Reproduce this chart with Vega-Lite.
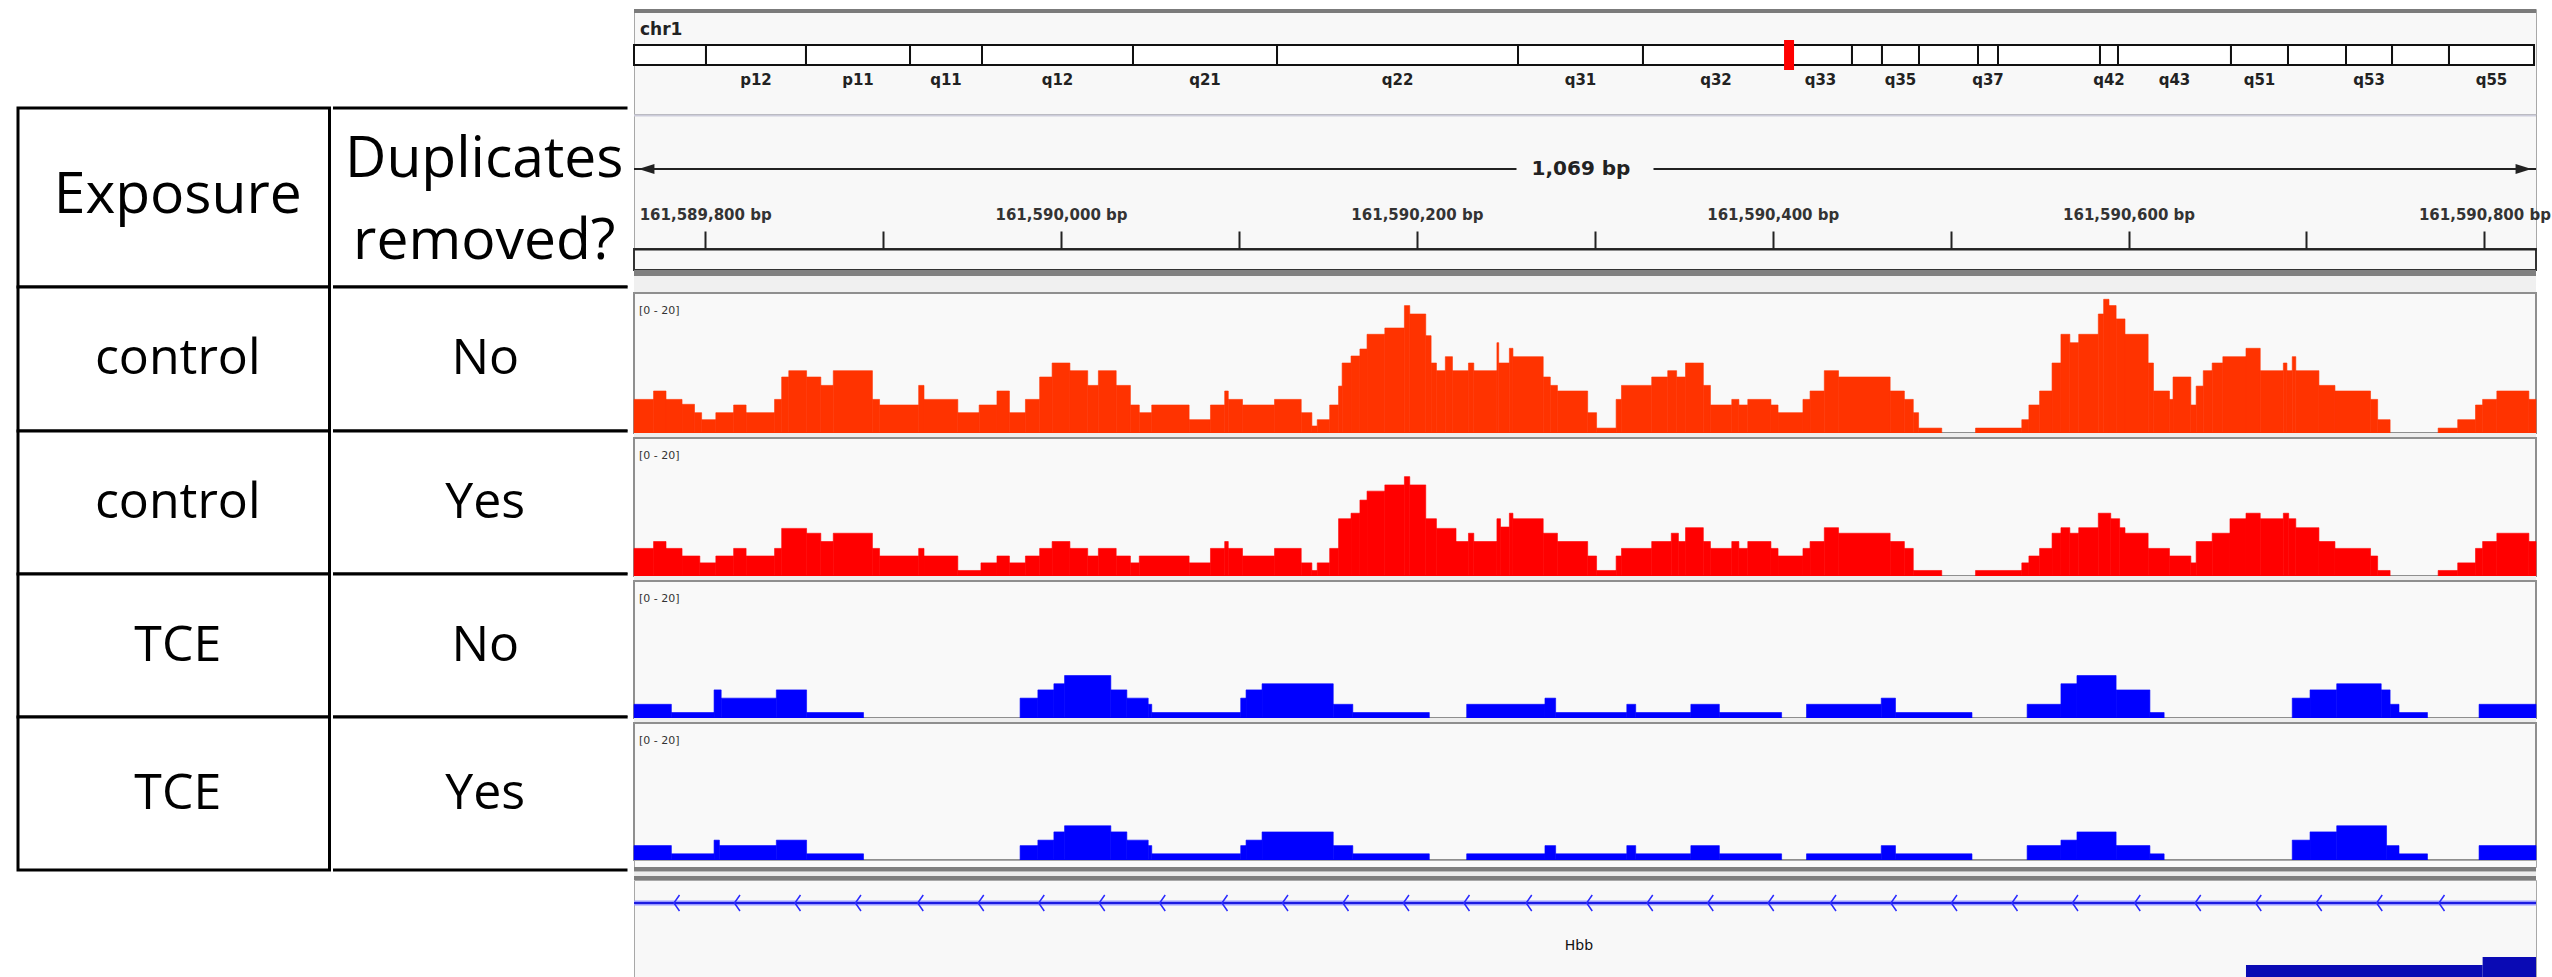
{
  "$schema": "https://vega.github.io/schema/vega-lite/v6.json",
  "background": "white",
  "padding": {"left": 16, "top": 8, "right": 0, "bottom": 0},
  "config": {"view": {"stroke": null}, "font": "DejaVu Sans"},
  "datasets": {
    "samples": [
      {"track": 1, "exposure": "control", "dedup": "No"},
      {"track": 2, "exposure": "control", "dedup": "Yes"},
      {"track": 3, "exposure": "TCE", "dedup": "No"},
      {"track": 4, "exposure": "TCE", "dedup": "Yes"}
    ],
    "region": [{"chrom": "chr1", "start": 161589760, "end": 161590829}],
    "bands": [
      {"band": "p13", "start": 0, "end": 10.15, "show": false},
      {"band": "p12", "start": 10.15, "end": 24.25, "show": true},
      {"band": "p11", "start": 24.25, "end": 38.92, "show": true},
      {"band": "q11", "start": 38.92, "end": 49.07, "show": true},
      {"band": "q12", "start": 49.07, "end": 70.36, "show": true},
      {"band": "q21", "start": 70.36, "end": 90.67, "show": true},
      {"band": "q22", "start": 90.67, "end": 124.65, "show": true},
      {"band": "q31", "start": 124.65, "end": 142.27, "show": true},
      {"band": "q32", "start": 142.27, "end": 162.86, "show": true},
      {"band": "q33", "start": 162.86, "end": 171.74, "show": true},
      {"band": "q34", "start": 171.74, "end": 175.97, "show": false},
      {"band": "q35", "start": 175.97, "end": 181.19, "show": true},
      {"band": "q36", "start": 181.19, "end": 189.51, "show": false},
      {"band": "q37", "start": 189.51, "end": 192.33, "show": true},
      {"band": "q41", "start": 192.33, "end": 206.71, "show": false},
      {"band": "q42", "start": 206.71, "end": 209.25, "show": true},
      {"band": "q43", "start": 209.25, "end": 225.18, "show": true},
      {"band": "q51", "start": 225.18, "end": 233.22, "show": true},
      {"band": "q52", "start": 233.22, "end": 241.4, "show": false},
      {"band": "q53", "start": 241.4, "end": 247.89, "show": true},
      {"band": "q54", "start": 247.89, "end": 255.92, "show": false},
      {"band": "q55", "start": 255.92, "end": 267.91, "show": true}
    ],
    "control_nodedup": [
      {"start":161589760,"end":161589771,"cov":4.8},{"start":161589771,"end":161589778,"cov":6.0},{"start":161589778,"end":161589787,"cov":4.8},
      {"start":161589787,"end":161589794,"cov":4.1},{"start":161589794,"end":161589798,"cov":2.9},{"start":161589798,"end":161589806,"cov":1.9},
      {"start":161589806,"end":161589816,"cov":2.9},{"start":161589816,"end":161589823,"cov":4.0},{"start":161589823,"end":161589839,"cov":2.9},
      {"start":161589839,"end":161589843,"cov":4.8},{"start":161589843,"end":161589847,"cov":8.0},{"start":161589847,"end":161589857,"cov":8.9},
      {"start":161589857,"end":161589865,"cov":8.0},{"start":161589865,"end":161589872,"cov":6.8},{"start":161589872,"end":161589894,"cov":8.9},
      {"start":161589894,"end":161589898,"cov":4.8},{"start":161589898,"end":161589920,"cov":4.0},{"start":161589920,"end":161589923,"cov":6.8},
      {"start":161589923,"end":161589942,"cov":4.8},{"start":161589942,"end":161589954,"cov":2.9},{"start":161589954,"end":161589964,"cov":4.0},
      {"start":161589964,"end":161589971,"cov":6.0},{"start":161589971,"end":161589980,"cov":2.9},{"start":161589980,"end":161589988,"cov":4.8},
      {"start":161589988,"end":161589995,"cov":8.0},{"start":161589995,"end":161590005,"cov":10.0},{"start":161590005,"end":161590015,"cov":8.9},
      {"start":161590015,"end":161590021,"cov":6.8},{"start":161590021,"end":161590031,"cov":8.9},{"start":161590031,"end":161590039,"cov":6.8},
      {"start":161590039,"end":161590044,"cov":4.0},{"start":161590044,"end":161590051,"cov":2.9},{"start":161590051,"end":161590072,"cov":4.0},
      {"start":161590072,"end":161590084,"cov":1.9},{"start":161590084,"end":161590092,"cov":4.0},{"start":161590092,"end":161590094,"cov":6.0},
      {"start":161590094,"end":161590102,"cov":4.8},{"start":161590102,"end":161590120,"cov":4.0},{"start":161590120,"end":161590135,"cov":4.8},
      {"start":161590135,"end":161590141,"cov":2.9},{"start":161590141,"end":161590144,"cov":1.0},{"start":161590144,"end":161590151,"cov":1.9},
      {"start":161590151,"end":161590156,"cov":4.0},{"start":161590156,"end":161590158,"cov":6.7},{"start":161590158,"end":161590163,"cov":10.0},
      {"start":161590163,"end":161590168,"cov":11.0},{"start":161590168,"end":161590172,"cov":12.0},{"start":161590172,"end":161590182,"cov":14.1},
      {"start":161590182,"end":161590193,"cov":15.0},{"start":161590193,"end":161590196,"cov":18.2},{"start":161590196,"end":161590205,"cov":17.0},
      {"start":161590205,"end":161590208,"cov":13.9},{"start":161590208,"end":161590211,"cov":10.0},{"start":161590211,"end":161590216,"cov":8.9},
      {"start":161590216,"end":161590220,"cov":10.9},{"start":161590220,"end":161590229,"cov":8.9},{"start":161590229,"end":161590232,"cov":10.0},
      {"start":161590232,"end":161590245,"cov":8.9},{"start":161590245,"end":161590246,"cov":12.9},{"start":161590246,"end":161590252,"cov":10.0},
      {"start":161590252,"end":161590254,"cov":12.1},{"start":161590254,"end":161590271,"cov":10.9},{"start":161590271,"end":161590275,"cov":8.0},
      {"start":161590275,"end":161590279,"cov":6.8},{"start":161590279,"end":161590296,"cov":6.0},{"start":161590296,"end":161590301,"cov":2.9},
      {"start":161590301,"end":161590312,"cov":0.7},{"start":161590312,"end":161590315,"cov":4.8},{"start":161590315,"end":161590332,"cov":6.8},
      {"start":161590332,"end":161590341,"cov":8.0},{"start":161590341,"end":161590346,"cov":8.9},{"start":161590346,"end":161590351,"cov":8.0},
      {"start":161590351,"end":161590361,"cov":10.0},{"start":161590361,"end":161590365,"cov":6.8},{"start":161590365,"end":161590377,"cov":4.0},
      {"start":161590377,"end":161590381,"cov":4.8},{"start":161590381,"end":161590386,"cov":4.0},{"start":161590386,"end":161590399,"cov":4.8},
      {"start":161590399,"end":161590403,"cov":4.0},{"start":161590403,"end":161590417,"cov":2.9},{"start":161590417,"end":161590421,"cov":4.8},
      {"start":161590421,"end":161590429,"cov":6.0},{"start":161590429,"end":161590437,"cov":8.9},{"start":161590437,"end":161590466,"cov":8.0},
      {"start":161590466,"end":161590474,"cov":6.0},{"start":161590474,"end":161590479,"cov":4.8},{"start":161590479,"end":161590482,"cov":2.9},
      {"start":161590482,"end":161590495,"cov":0.7},
      {"start":161590514,"end":161590540,"cov":0.7},{"start":161590540,"end":161590544,"cov":1.9},{"start":161590544,"end":161590550,"cov":4.0},
      {"start":161590550,"end":161590557,"cov":6.0},{"start":161590557,"end":161590562,"cov":10.0},{"start":161590562,"end":161590567,"cov":14.1},
      {"start":161590567,"end":161590572,"cov":12.9},{"start":161590572,"end":161590583,"cov":14.1},{"start":161590583,"end":161590586,"cov":17.0},
      {"start":161590586,"end":161590589,"cov":19.1},{"start":161590589,"end":161590593,"cov":18.2},{"start":161590593,"end":161590598,"cov":16.3},
      {"start":161590598,"end":161590611,"cov":14.1},{"start":161590611,"end":161590614,"cov":10.0},{"start":161590614,"end":161590623,"cov":6.0},
      {"start":161590623,"end":161590625,"cov":4.8},{"start":161590625,"end":161590635,"cov":8.0},{"start":161590635,"end":161590638,"cov":4.0},
      {"start":161590638,"end":161590642,"cov":6.7},{"start":161590642,"end":161590647,"cov":8.9},{"start":161590647,"end":161590653,"cov":10.0},
      {"start":161590653,"end":161590666,"cov":10.9},{"start":161590666,"end":161590674,"cov":12.1},{"start":161590674,"end":161590687,"cov":8.9},
      {"start":161590687,"end":161590689,"cov":10.0},{"start":161590689,"end":161590692,"cov":8.9},{"start":161590692,"end":161590694,"cov":10.9},
      {"start":161590694,"end":161590707,"cov":8.9},{"start":161590707,"end":161590716,"cov":6.8},{"start":161590716,"end":161590736,"cov":6.0},
      {"start":161590736,"end":161590740,"cov":4.8},{"start":161590740,"end":161590747,"cov":1.9},
      {"start":161590774,"end":161590785,"cov":0.7},{"start":161590785,"end":161590795,"cov":1.9},{"start":161590795,"end":161590799,"cov":4.0},
      {"start":161590799,"end":161590807,"cov":4.8},{"start":161590807,"end":161590825,"cov":6.0},{"start":161590825,"end":161590829,"cov":4.8}
    ],
    "control_dedup": [
      {"start":161589760,"end":161589771,"cov":4.0},{"start":161589771,"end":161589778,"cov":5.0},{"start":161589778,"end":161589787,"cov":4.0},
      {"start":161589787,"end":161589797,"cov":2.9},{"start":161589797,"end":161589806,"cov":1.9},{"start":161589806,"end":161589816,"cov":2.9},
      {"start":161589816,"end":161589823,"cov":4.0},{"start":161589823,"end":161589839,"cov":2.9},{"start":161589839,"end":161589843,"cov":4.0},
      {"start":161589843,"end":161589857,"cov":6.9},{"start":161589857,"end":161589865,"cov":6.2},{"start":161589865,"end":161589872,"cov":5.0},
      {"start":161589872,"end":161589894,"cov":6.2},{"start":161589894,"end":161589898,"cov":4.0},{"start":161589898,"end":161589920,"cov":2.9},
      {"start":161589920,"end":161589923,"cov":4.0},{"start":161589923,"end":161589942,"cov":2.9},{"start":161589942,"end":161589955,"cov":0.8},
      {"start":161589955,"end":161589964,"cov":1.9},{"start":161589964,"end":161589971,"cov":2.9},{"start":161589971,"end":161589980,"cov":1.9},
      {"start":161589980,"end":161589988,"cov":2.9},{"start":161589988,"end":161589995,"cov":4.0},{"start":161589995,"end":161590005,"cov":5.0},
      {"start":161590005,"end":161590015,"cov":4.0},{"start":161590015,"end":161590021,"cov":2.9},{"start":161590021,"end":161590031,"cov":4.0},
      {"start":161590031,"end":161590039,"cov":2.9},{"start":161590039,"end":161590044,"cov":1.9},{"start":161590044,"end":161590072,"cov":2.9},
      {"start":161590072,"end":161590084,"cov":1.9},{"start":161590084,"end":161590092,"cov":4.0},{"start":161590092,"end":161590094,"cov":5.0},
      {"start":161590094,"end":161590102,"cov":4.0},{"start":161590102,"end":161590120,"cov":2.9},{"start":161590120,"end":161590135,"cov":4.0},
      {"start":161590135,"end":161590141,"cov":1.9},{"start":161590141,"end":161590144,"cov":0.8},{"start":161590144,"end":161590151,"cov":1.9},
      {"start":161590151,"end":161590156,"cov":4.0},{"start":161590156,"end":161590163,"cov":8.3},{"start":161590163,"end":161590168,"cov":9.1},
      {"start":161590168,"end":161590172,"cov":11.0},{"start":161590172,"end":161590182,"cov":12.3},{"start":161590182,"end":161590193,"cov":13.2},
      {"start":161590193,"end":161590196,"cov":14.4},{"start":161590196,"end":161590205,"cov":13.2},{"start":161590205,"end":161590211,"cov":8.3},
      {"start":161590211,"end":161590222,"cov":6.9},{"start":161590222,"end":161590229,"cov":5.0},{"start":161590229,"end":161590232,"cov":6.2},
      {"start":161590232,"end":161590245,"cov":5.0},{"start":161590245,"end":161590247,"cov":8.3},{"start":161590247,"end":161590252,"cov":7.1},
      {"start":161590252,"end":161590254,"cov":9.1},{"start":161590254,"end":161590271,"cov":8.3},{"start":161590271,"end":161590279,"cov":6.2},
      {"start":161590279,"end":161590296,"cov":5.0},{"start":161590296,"end":161590301,"cov":2.9},{"start":161590301,"end":161590312,"cov":0.8},
      {"start":161590312,"end":161590315,"cov":2.9},{"start":161590315,"end":161590332,"cov":4.0},{"start":161590332,"end":161590343,"cov":5.0},
      {"start":161590343,"end":161590347,"cov":6.2},{"start":161590347,"end":161590351,"cov":5.0},{"start":161590351,"end":161590361,"cov":7.0},
      {"start":161590361,"end":161590365,"cov":5.0},{"start":161590365,"end":161590377,"cov":4.0},{"start":161590377,"end":161590381,"cov":5.0},
      {"start":161590381,"end":161590386,"cov":4.0},{"start":161590386,"end":161590399,"cov":5.0},{"start":161590399,"end":161590403,"cov":4.0},
      {"start":161590403,"end":161590417,"cov":2.9},{"start":161590417,"end":161590421,"cov":4.0},{"start":161590421,"end":161590429,"cov":5.0},
      {"start":161590429,"end":161590437,"cov":7.0},{"start":161590437,"end":161590466,"cov":6.2},{"start":161590466,"end":161590474,"cov":5.0},
      {"start":161590474,"end":161590479,"cov":4.0},{"start":161590479,"end":161590495,"cov":0.8},
      {"start":161590514,"end":161590540,"cov":0.8},{"start":161590540,"end":161590544,"cov":1.9},{"start":161590544,"end":161590550,"cov":2.9},
      {"start":161590550,"end":161590557,"cov":4.0},{"start":161590557,"end":161590562,"cov":6.2},{"start":161590562,"end":161590567,"cov":7.0},
      {"start":161590567,"end":161590572,"cov":6.2},{"start":161590572,"end":161590583,"cov":7.0},{"start":161590583,"end":161590590,"cov":9.1},
      {"start":161590590,"end":161590595,"cov":8.3},{"start":161590595,"end":161590598,"cov":7.0},{"start":161590598,"end":161590611,"cov":6.2},
      {"start":161590611,"end":161590623,"cov":4.0},{"start":161590623,"end":161590635,"cov":2.9},{"start":161590635,"end":161590638,"cov":1.9},
      {"start":161590638,"end":161590647,"cov":5.0},{"start":161590647,"end":161590657,"cov":6.2},{"start":161590657,"end":161590666,"cov":8.3},
      {"start":161590666,"end":161590674,"cov":9.1},{"start":161590674,"end":161590687,"cov":8.3},{"start":161590687,"end":161590690,"cov":9.1},
      {"start":161590690,"end":161590694,"cov":8.3},{"start":161590694,"end":161590707,"cov":7.0},{"start":161590707,"end":161590716,"cov":5.0},
      {"start":161590716,"end":161590736,"cov":4.0},{"start":161590736,"end":161590740,"cov":2.9},{"start":161590740,"end":161590747,"cov":0.8},
      {"start":161590774,"end":161590785,"cov":0.8},{"start":161590785,"end":161590795,"cov":1.9},{"start":161590795,"end":161590799,"cov":4.0},
      {"start":161590799,"end":161590807,"cov":5.0},{"start":161590807,"end":161590825,"cov":6.2},{"start":161590825,"end":161590829,"cov":5.0}
    ],
    "tce_nodedup": [
      {"start":161589760,"end":161589781,"cov":2.0},{"start":161589781,"end":161589805,"cov":0.8},{"start":161589805,"end":161589809,"cov":4.1},
      {"start":161589809,"end":161589840,"cov":2.9},{"start":161589840,"end":161589857,"cov":4.1},{"start":161589857,"end":161589889,"cov":0.8},
      {"start":161589977,"end":161589987,"cov":2.9},{"start":161589987,"end":161589996,"cov":4.1},{"start":161589996,"end":161590002,"cov":5.0},
      {"start":161590002,"end":161590028,"cov":6.2},{"start":161590028,"end":161590037,"cov":4.1},{"start":161590037,"end":161590049,"cov":2.9},
      {"start":161590049,"end":161590051,"cov":2.0},{"start":161590051,"end":161590101,"cov":0.8},{"start":161590101,"end":161590104,"cov":2.9},
      {"start":161590104,"end":161590113,"cov":4.1},{"start":161590113,"end":161590153,"cov":5.0},{"start":161590153,"end":161590164,"cov":2.0},
      {"start":161590164,"end":161590207,"cov":0.8},
      {"start":161590228,"end":161590272,"cov":2.0},{"start":161590272,"end":161590278,"cov":2.9},{"start":161590278,"end":161590318,"cov":0.8},
      {"start":161590318,"end":161590323,"cov":2.0},{"start":161590323,"end":161590354,"cov":0.8},{"start":161590354,"end":161590370,"cov":2.0},
      {"start":161590370,"end":161590405,"cov":0.8},
      {"start":161590419,"end":161590461,"cov":2.0},{"start":161590461,"end":161590469,"cov":2.9},{"start":161590469,"end":161590512,"cov":0.8},
      {"start":161590543,"end":161590562,"cov":2.0},{"start":161590562,"end":161590571,"cov":5.0},{"start":161590571,"end":161590593,"cov":6.2},
      {"start":161590593,"end":161590612,"cov":4.1},{"start":161590612,"end":161590620,"cov":0.8},
      {"start":161590692,"end":161590702,"cov":2.9},{"start":161590702,"end":161590717,"cov":4.1},{"start":161590717,"end":161590742,"cov":5.0},
      {"start":161590742,"end":161590747,"cov":4.1},{"start":161590747,"end":161590752,"cov":2.0},{"start":161590752,"end":161590768,"cov":0.8},
      {"start":161590797,"end":161590829,"cov":2.0}
    ],
    "tce_dedup": [
      {"start":161589760,"end":161589781,"cov":2.1},{"start":161589781,"end":161589805,"cov":0.9},{"start":161589805,"end":161589808,"cov":2.9},
      {"start":161589808,"end":161589840,"cov":2.1},{"start":161589840,"end":161589857,"cov":2.9},{"start":161589857,"end":161589889,"cov":0.9},
      {"start":161589977,"end":161589987,"cov":2.1},{"start":161589987,"end":161589996,"cov":2.9},{"start":161589996,"end":161590002,"cov":4.1},
      {"start":161590002,"end":161590028,"cov":5.0},{"start":161590028,"end":161590037,"cov":4.1},{"start":161590037,"end":161590049,"cov":2.9},
      {"start":161590049,"end":161590051,"cov":2.1},{"start":161590051,"end":161590101,"cov":0.9},{"start":161590101,"end":161590104,"cov":2.1},
      {"start":161590104,"end":161590113,"cov":2.9},{"start":161590113,"end":161590153,"cov":4.1},{"start":161590153,"end":161590164,"cov":2.1},
      {"start":161590164,"end":161590207,"cov":0.9},
      {"start":161590228,"end":161590272,"cov":0.9},{"start":161590272,"end":161590278,"cov":2.1},{"start":161590278,"end":161590318,"cov":0.9},
      {"start":161590318,"end":161590323,"cov":2.1},{"start":161590323,"end":161590354,"cov":0.9},{"start":161590354,"end":161590370,"cov":2.1},
      {"start":161590370,"end":161590405,"cov":0.9},
      {"start":161590419,"end":161590461,"cov":0.9},{"start":161590461,"end":161590469,"cov":2.1},{"start":161590469,"end":161590512,"cov":0.9},
      {"start":161590543,"end":161590562,"cov":2.1},{"start":161590562,"end":161590571,"cov":2.9},{"start":161590571,"end":161590593,"cov":4.1},
      {"start":161590593,"end":161590612,"cov":2.1},{"start":161590612,"end":161590620,"cov":0.9},
      {"start":161590692,"end":161590702,"cov":2.9},{"start":161590702,"end":161590717,"cov":4.1},{"start":161590717,"end":161590745,"cov":5.0},
      {"start":161590745,"end":161590752,"cov":2.1},{"start":161590752,"end":161590768,"cov":0.9},
      {"start":161590797,"end":161590829,"cov":2.1}
    ],
    "chevrons": [
      {"pos":161589784},{"pos":161589818},{"pos":161589852},{"pos":161589886},{"pos":161589921},{"pos":161589955},
      {"pos":161589989},{"pos":161590023},{"pos":161590057},{"pos":161590092},{"pos":161590126},{"pos":161590160},
      {"pos":161590194},{"pos":161590228},{"pos":161590263},{"pos":161590297},{"pos":161590331},{"pos":161590365},
      {"pos":161590399},{"pos":161590434},{"pos":161590468},{"pos":161590502},{"pos":161590536},{"pos":161590570},
      {"pos":161590605},{"pos":161590639},{"pos":161590673},{"pos":161590707},{"pos":161590741},{"pos":161590776}
    ],
    "exons": [
      {"gene": "Hbb", "kind": "UTR", "start": 161590666, "end": 161590799},
      {"gene": "Hbb", "kind": "CDS", "start": 161590799, "end": 161590829}
    ]
  },
  "spacing": 0,
  "hconcat": [
    {
      "spacing": 0,
      "bounds": "flush",
      "vconcat": [
        {"width": 311.5, "height": 99, "data": {"values": []}, "mark": "point", "view": {"fill": "white", "stroke": null}},
        {"width": 311.5, "height": 179, "view": {"stroke": "#000", "strokeWidth": 3, "fill": "white"},
         "data": {"values": [{"h": "Exposure"}]},
         "mark": {"type": "text", "font": "Open Sans", "fontSize": 57, "color": "#000", "dx": 4, "dy": -2},
         "encoding": {"text": {"field": "h"}}},
        {"width": 311.5, "height": 144, "view": {"stroke": "#000", "strokeWidth": 3, "fill": "white"},
         "data": {"name": "samples"}, "transform": [{"filter": "datum.track == 1"}],
         "mark": {"type": "text", "font": "Open Sans", "fontSize": 50, "color": "#000", "dx": 4},
         "encoding": {"text": {"field": "exposure"}}},
        {"width": 311.5, "height": 143, "view": {"stroke": "#000", "strokeWidth": 3, "fill": "white"},
         "data": {"name": "samples"}, "transform": [{"filter": "datum.track == 2"}],
         "mark": {"type": "text", "font": "Open Sans", "fontSize": 50, "color": "#000", "dx": 4},
         "encoding": {"text": {"field": "exposure"}}},
        {"width": 311.5, "height": 143, "view": {"stroke": "#000", "strokeWidth": 3, "fill": "white"},
         "data": {"name": "samples"}, "transform": [{"filter": "datum.track == 3"}],
         "mark": {"type": "text", "font": "Open Sans", "fontSize": 50, "color": "#000", "dx": 4},
         "encoding": {"text": {"field": "exposure"}}},
        {"width": 311.5, "height": 153, "view": {"stroke": "#000", "strokeWidth": 3, "fill": "white"},
         "data": {"name": "samples"}, "transform": [{"filter": "datum.track == 4"}],
         "mark": {"type": "text", "font": "Open Sans", "fontSize": 50, "color": "#000", "dx": 4},
         "encoding": {"text": {"field": "exposure"}}}
      ]
    },
    {
      "spacing": 0,
      "bounds": "flush",
      "vconcat": [
        {"width": 294.5, "height": 99, "data": {"values": []}, "mark": "point", "view": {"fill": "white", "stroke": null}},
        {"width": 294.5, "height": 179, "view": {"fill": "white", "stroke": null},
         "layer": [
           {"data": {"values": [{"h": "Duplicates removed?"}]},
            "mark": {"type": "text", "font": "Open Sans", "fontSize": 57, "color": "#000", "lineBreak": " ", "lineHeight": 82, "dx": 4, "dy": -38},
            "encoding": {"text": {"field": "h"}}},
           {"data": {"values": [{}]}, "mark": {"type": "rule", "color": "#000", "strokeWidth": 3},
            "encoding": {"y": {"datum": 1, "type": "quantitative", "scale": {"domain": [0, 1]}, "axis": null}}},
           {"data": {"values": [{}]}, "mark": {"type": "rule", "color": "#000", "strokeWidth": 3},
            "encoding": {"y": {"datum": 0, "type": "quantitative", "scale": {"domain": [0, 1]}, "axis": null}}}
         ]},
        {"width": 294.5, "height": 144, "view": {"fill": "white", "stroke": null},
         "layer": [
           {"data": {"name": "samples"}, "transform": [{"filter": "datum.track == 1"}],
            "mark": {"type": "text", "font": "Open Sans", "fontSize": 50, "color": "#000", "dx": 5},
            "encoding": {"text": {"field": "dedup"}}},
           {"data": {"values": [{}]}, "mark": {"type": "rule", "color": "#000", "strokeWidth": 3},
            "encoding": {"y": {"datum": 1, "type": "quantitative", "scale": {"domain": [0, 1]}, "axis": null}}},
           {"data": {"values": [{}]}, "mark": {"type": "rule", "color": "#000", "strokeWidth": 3},
            "encoding": {"y": {"datum": 0, "type": "quantitative", "scale": {"domain": [0, 1]}, "axis": null}}}
         ]},
        {"width": 294.5, "height": 143, "view": {"fill": "white", "stroke": null},
         "layer": [
           {"data": {"name": "samples"}, "transform": [{"filter": "datum.track == 2"}],
            "mark": {"type": "text", "font": "Open Sans", "fontSize": 50, "color": "#000", "dx": 5},
            "encoding": {"text": {"field": "dedup"}}},
           {"data": {"values": [{}]}, "mark": {"type": "rule", "color": "#000", "strokeWidth": 3},
            "encoding": {"y": {"datum": 1, "type": "quantitative", "scale": {"domain": [0, 1]}, "axis": null}}},
           {"data": {"values": [{}]}, "mark": {"type": "rule", "color": "#000", "strokeWidth": 3},
            "encoding": {"y": {"datum": 0, "type": "quantitative", "scale": {"domain": [0, 1]}, "axis": null}}}
         ]},
        {"width": 294.5, "height": 143, "view": {"fill": "white", "stroke": null},
         "layer": [
           {"data": {"name": "samples"}, "transform": [{"filter": "datum.track == 3"}],
            "mark": {"type": "text", "font": "Open Sans", "fontSize": 50, "color": "#000", "dx": 5},
            "encoding": {"text": {"field": "dedup"}}},
           {"data": {"values": [{}]}, "mark": {"type": "rule", "color": "#000", "strokeWidth": 3},
            "encoding": {"y": {"datum": 1, "type": "quantitative", "scale": {"domain": [0, 1]}, "axis": null}}},
           {"data": {"values": [{}]}, "mark": {"type": "rule", "color": "#000", "strokeWidth": 3},
            "encoding": {"y": {"datum": 0, "type": "quantitative", "scale": {"domain": [0, 1]}, "axis": null}}}
         ]},
        {"width": 294.5, "height": 153, "view": {"fill": "white", "stroke": null},
         "layer": [
           {"data": {"name": "samples"}, "transform": [{"filter": "datum.track == 4"}],
            "mark": {"type": "text", "font": "Open Sans", "fontSize": 50, "color": "#000", "dx": 5},
            "encoding": {"text": {"field": "dedup"}}},
           {"data": {"values": [{}]}, "mark": {"type": "rule", "color": "#000", "strokeWidth": 3},
            "encoding": {"y": {"datum": 1, "type": "quantitative", "scale": {"domain": [0, 1]}, "axis": null}}},
           {"data": {"values": [{}]}, "mark": {"type": "rule", "color": "#000", "strokeWidth": 3},
            "encoding": {"y": {"datum": 0, "type": "quantitative", "scale": {"domain": [0, 1]}, "axis": null}}}
         ]}
      ]
    },
    {"width": 1.5, "height": 5, "data": {"values": []}, "mark": "point", "view": {"fill": "white", "stroke": null}},
    {
      "spacing": 0,
      "bounds": "flush",
      "vconcat": [
        {
          "width": 1902, "height": 105,
          "view": {"fill": "#f8f8f8", "stroke": "#a8a8a8"},
          "layer": [
            {"data": {"values": [{}]}, "mark": {"type": "rule", "color": "#7b7b7b", "strokeWidth": 4},
             "encoding": {"y": {"datum": 0.019, "type": "quantitative", "scale": {"domain": [0, 1], "reverse": true}, "axis": null}}},
            {"data": {"name": "region"},
             "mark": {"type": "text", "align": "left", "dx": 6, "font": "DejaVu Sans", "fontWeight": "bold", "fontSize": 17, "color": "#222"},
             "encoding": {
               "x": {"datum": 0, "type": "quantitative", "scale": {"domain": [0, 268.19], "nice": false, "zero": false}, "axis": null},
               "y": {"datum": 0.2, "type": "quantitative", "scale": {"domain": [0, 1], "reverse": true}, "axis": null},
               "text": {"field": "chrom"}}},
            {"data": {"name": "bands"},
             "mark": {"type": "rect", "fill": "white", "stroke": "#111", "strokeWidth": 2},
             "encoding": {
               "x": {"field": "start", "type": "quantitative", "scale": {"domain": [0, 268.19], "nice": false, "zero": false}, "axis": null},
               "x2": {"field": "end"},
               "y": {"datum": 0.343, "type": "quantitative", "scale": {"domain": [0, 1], "reverse": true}, "axis": null},
               "y2": {"datum": 0.533}}},
            {"data": {"values": [{"locus": "current view", "start": 162.16, "end": 163.57}]},
             "mark": {"type": "rect", "fill": "#ff0000"},
             "encoding": {
               "x": {"field": "start", "type": "quantitative", "scale": {"domain": [0, 268.19], "nice": false, "zero": false}, "axis": null},
               "x2": {"field": "end"},
               "y": {"datum": 0.295, "type": "quantitative", "scale": {"domain": [0, 1], "reverse": true}, "axis": null},
               "y2": {"datum": 0.581}}},
            {"data": {"name": "bands"},
             "transform": [{"filter": "datum.show"}, {"calculate": "(datum.start + datum.end) / 2", "as": "mid"}],
             "mark": {"type": "text", "font": "DejaVu Sans", "fontWeight": "bold", "fontSize": 15, "color": "#222"},
             "encoding": {
               "x": {"field": "mid", "type": "quantitative", "scale": {"domain": [0, 268.19], "nice": false, "zero": false}, "axis": null},
               "y": {"datum": 0.676, "type": "quantitative", "scale": {"domain": [0, 1], "reverse": true}, "axis": null},
               "text": {"field": "band"}}}
          ]
        },
        {
          "width": 1902, "height": 135,
          "view": {"fill": "#f8f8f8", "stroke": "#a8a8a8"},
          "layer": [
            {"data": {"values": [{}]}, "mark": {"type": "rule", "color": "#cdcddb", "strokeWidth": 2},
             "encoding": {"y": {"datum": 0.012, "type": "quantitative", "scale": {"domain": [0, 1], "reverse": true}, "axis": null}}},
            {"data": {"values": [{"start": 161589760, "end": 161590256}, {"start": 161590333, "end": 161590829}]},
             "mark": {"type": "rule", "color": "#222", "strokeWidth": 2},
             "encoding": {
               "x": {"field": "start", "type": "quantitative", "scale": {"domain": [161589760, 161590829], "nice": false, "zero": false}, "axis": null},
               "x2": {"field": "end"},
               "y": {"datum": 0.407, "type": "quantitative", "scale": {"domain": [0, 1], "reverse": true}, "axis": null}}},
            {"data": {"values": [{"pos": 161589767, "dir": "left"}, {"pos": 161590822, "dir": "right"}]},
             "mark": {"type": "point", "filled": true, "color": "#222", "opacity": 1, "size": 256},
             "encoding": {
               "x": {"field": "pos", "type": "quantitative", "scale": {"domain": [161589760, 161590829], "nice": false, "zero": false}, "axis": null},
               "y": {"datum": 0.407, "type": "quantitative", "scale": {"domain": [0, 1], "reverse": true}, "axis": null},
               "shape": {"field": "dir", "type": "nominal", "scale": {"domain": ["left", "right"], "range": ["M-1,0 L1,-0.625 L1,0.625 Z", "M1,0 L-1,-0.625 L-1,0.625 Z"]}, "legend": null}}},
            {"data": {"name": "region"},
             "transform": [{"calculate": "(datum.start + datum.end) / 2", "as": "mid"}, {"calculate": "format(datum.end - datum.start, ',') + ' bp'", "as": "span"}],
             "mark": {"type": "text", "font": "DejaVu Sans", "fontWeight": "bold", "fontSize": 20, "color": "#222", "dx": -4},
             "encoding": {
               "x": {"field": "mid", "type": "quantitative", "scale": {"domain": [161589760, 161590829], "nice": false, "zero": false}, "axis": null},
               "y": {"datum": 0.407, "type": "quantitative", "scale": {"domain": [0, 1], "reverse": true}, "axis": null},
               "text": {"field": "span"}}}
          ]
        },
        {
          "width": 1902, "height": 21,
          "view": {"fill": "#f8f8f8", "stroke": "#333", "strokeWidth": 2},
          "data": {"name": "region"},
          "mark": {"type": "rect", "opacity": 0},
          "encoding": {
            "x": {"field": "start", "type": "quantitative", "scale": {"domain": [161589760, 161590829], "nice": false, "zero": false},
                  "axis": {"orient": "top", "title": null, "grid": false,
                           "values": [161589800, 161589900, 161590000, 161590100, 161590200, 161590300, 161590400, 161590500, 161590600, 161590700, 161590800],
                           "labelExpr": "datum.value % 200 == 0 ? format(datum.value, ',') + ' bp' : ''",
                           "tickSize": 18, "tickWidth": 2, "tickColor": "#222", "domainColor": "#222", "domainWidth": 2,
                           "labelFont": "DejaVu Sans", "labelFontWeight": "bold", "labelFontSize": 15, "labelColor": "#333",
                           "labelPadding": 9, "labelOverlap": false, "labelFlush": false, "labelBound": false}},
            "x2": {"field": "end"}}
        },
        {"width": 1902, "height": 6, "data": {"values": []}, "mark": "point", "view": {"fill": "#808080", "stroke": null}},
        {"width": 1902, "height": 17, "data": {"values": []}, "mark": "point", "view": {"fill": "#f0f0f0", "stroke": null}},
        {
          "width": 1902, "height": 140,
          "view": {"fill": "#f9f9f9", "stroke": "#8f8f8f", "strokeWidth": 2},
          "layer": [
            {"data": {"name": "control_nodedup"},
             "mark": {"type": "rect", "color": "#ff3300", "stroke": "#ff3300", "strokeWidth": 0.6},
             "encoding": {
               "x": {"field": "start", "type": "quantitative", "scale": {"domain": [161589760, 161590829], "nice": false, "zero": false}, "axis": null},
               "x2": {"field": "end"},
               "y": {"field": "cov", "type": "quantitative", "scale": {"domain": [0, 20], "nice": false}, "axis": null},
               "y2": {"datum": 0}}},
            {"data": {"values": [{"range": "[0 - 20]"}]},
             "mark": {"type": "text", "align": "left", "dx": 5, "font": "DejaVu Sans", "fontSize": 11, "color": "#333"},
             "encoding": {
               "x": {"datum": 161589760, "type": "quantitative", "scale": {"domain": [161589760, 161590829], "nice": false, "zero": false}, "axis": null},
               "y": {"datum": 17.4, "type": "quantitative", "scale": {"domain": [0, 20], "nice": false}, "axis": null},
               "text": {"field": "range"}}}
          ]
        },
        {"width": 1902, "height": 4.5, "data": {"values": []}, "mark": "point", "view": {"fill": "#eeeeee", "stroke": null}},
        {
          "width": 1902, "height": 138,
          "view": {"fill": "#f9f9f9", "stroke": "#8f8f8f", "strokeWidth": 2},
          "layer": [
            {"data": {"name": "control_dedup"},
             "mark": {"type": "rect", "color": "#ff0000", "stroke": "#ff0000", "strokeWidth": 0.6},
             "encoding": {
               "x": {"field": "start", "type": "quantitative", "scale": {"domain": [161589760, 161590829], "nice": false, "zero": false}, "axis": null},
               "x2": {"field": "end"},
               "y": {"field": "cov", "type": "quantitative", "scale": {"domain": [0, 20], "nice": false}, "axis": null},
               "y2": {"datum": 0}}},
            {"data": {"values": [{"range": "[0 - 20]"}]},
             "mark": {"type": "text", "align": "left", "dx": 5, "font": "DejaVu Sans", "fontSize": 11, "color": "#333"},
             "encoding": {
               "x": {"datum": 161589760, "type": "quantitative", "scale": {"domain": [161589760, 161590829], "nice": false, "zero": false}, "axis": null},
               "y": {"datum": 17.4, "type": "quantitative", "scale": {"domain": [0, 20], "nice": false}, "axis": null},
               "text": {"field": "range"}}}
          ]
        },
        {"width": 1902, "height": 4.5, "data": {"values": []}, "mark": "point", "view": {"fill": "#eeeeee", "stroke": null}},
        {
          "width": 1902, "height": 137,
          "view": {"fill": "#f9f9f9", "stroke": "#8f8f8f", "strokeWidth": 2},
          "layer": [
            {"data": {"name": "tce_nodedup"},
             "mark": {"type": "rect", "color": "#0000ff", "stroke": "#0000ff", "strokeWidth": 0.6},
             "encoding": {
               "x": {"field": "start", "type": "quantitative", "scale": {"domain": [161589760, 161590829], "nice": false, "zero": false}, "axis": null},
               "x2": {"field": "end"},
               "y": {"field": "cov", "type": "quantitative", "scale": {"domain": [0, 20], "nice": false}, "axis": null},
               "y2": {"datum": 0}}},
            {"data": {"values": [{"range": "[0 - 20]"}]},
             "mark": {"type": "text", "align": "left", "dx": 5, "font": "DejaVu Sans", "fontSize": 11, "color": "#333"},
             "encoding": {
               "x": {"datum": 161589760, "type": "quantitative", "scale": {"domain": [161589760, 161590829], "nice": false, "zero": false}, "axis": null},
               "y": {"datum": 17.4, "type": "quantitative", "scale": {"domain": [0, 20], "nice": false}, "axis": null},
               "text": {"field": "range"}}}
          ]
        },
        {"width": 1902, "height": 4.5, "data": {"values": []}, "mark": "point", "view": {"fill": "#eeeeee", "stroke": null}},
        {
          "width": 1902, "height": 137,
          "view": {"fill": "#f9f9f9", "stroke": "#8f8f8f", "strokeWidth": 2},
          "layer": [
            {"data": {"name": "tce_dedup"},
             "mark": {"type": "rect", "color": "#0000ff", "stroke": "#0000ff", "strokeWidth": 0.6},
             "encoding": {
               "x": {"field": "start", "type": "quantitative", "scale": {"domain": [161589760, 161590829], "nice": false, "zero": false}, "axis": null},
               "x2": {"field": "end"},
               "y": {"field": "cov", "type": "quantitative", "scale": {"domain": [0, 20], "nice": false}, "axis": null},
               "y2": {"datum": 0}}},
            {"data": {"values": [{"range": "[0 - 20]"}]},
             "mark": {"type": "text", "align": "left", "dx": 5, "font": "DejaVu Sans", "fontSize": 11, "color": "#333"},
             "encoding": {
               "x": {"datum": 161589760, "type": "quantitative", "scale": {"domain": [161589760, 161590829], "nice": false, "zero": false}, "axis": null},
               "y": {"datum": 17.4, "type": "quantitative", "scale": {"domain": [0, 20], "nice": false}, "axis": null},
               "text": {"field": "range"}}}
          ]
        },
        {"width": 1902, "height": 7, "data": {"values": []}, "mark": "point", "view": {"fill": "#fafafa", "stroke": "#a8a8a8"}},
        {"width": 1902, "height": 4.5, "data": {"values": []}, "mark": "point", "view": {"fill": "#7f7f7f", "stroke": null}},
        {"width": 1902, "height": 4, "data": {"values": []}, "mark": "point", "view": {"fill": "#ededed", "stroke": null}},
        {"width": 1902, "height": 4, "data": {"values": []}, "mark": "point", "view": {"fill": "#7f7f7f", "stroke": null}},
        {
          "width": 1902, "height": 115,
          "view": {"fill": "#f8f8f8", "stroke": "#a8a8a8"},
          "layer": [
            {"data": {"values": [{}]}, "mark": {"type": "rule", "color": "#9a9aff", "strokeWidth": 5},
             "encoding": {"y": {"datum": 0.2, "type": "quantitative", "scale": {"domain": [0, 1], "reverse": true}, "axis": null}}},
            {"data": {"values": [{}]}, "mark": {"type": "rule", "color": "#1c1ce0", "strokeWidth": 2},
             "encoding": {"y": {"datum": 0.2, "type": "quantitative", "scale": {"domain": [0, 1], "reverse": true}, "axis": null}}},
            {"data": {"name": "chevrons"},
             "mark": {"type": "point", "shape": "M0.35,-1 L-0.35,0 L0.35,1", "size": 256, "filled": false, "stroke": "#2a2aff", "strokeWidth": 1.5, "opacity": 1},
             "encoding": {
               "x": {"field": "pos", "type": "quantitative", "scale": {"domain": [161589760, 161590829], "nice": false, "zero": false}, "axis": null},
               "y": {"datum": 0.2, "type": "quantitative", "scale": {"domain": [0, 1], "reverse": true}, "axis": null}}},
            {"data": {"name": "region"},
             "transform": [{"calculate": "(datum.start + datum.end) / 2", "as": "mid"}, {"calculate": "'Hbb'", "as": "gene"}],
             "mark": {"type": "text", "font": "DejaVu Sans", "fontSize": 14, "color": "#111", "dx": -6},
             "encoding": {
               "x": {"field": "mid", "type": "quantitative", "scale": {"domain": [161589760, 161590829], "nice": false, "zero": false}, "axis": null},
               "y": {"datum": 0.575, "type": "quantitative", "scale": {"domain": [0, 1], "reverse": true}, "axis": null},
               "text": {"field": "gene"}}},
            {"data": {"name": "exons"}, "transform": [{"filter": "datum.kind == 'UTR'"}],
             "mark": {"type": "rect", "color": "#0a0ab4"},
             "encoding": {
               "x": {"field": "start", "type": "quantitative", "scale": {"domain": [161589760, 161590829], "nice": false, "zero": false}, "axis": null},
               "x2": {"field": "end"},
               "y": {"datum": 0.74, "type": "quantitative", "scale": {"domain": [0, 1], "reverse": true}, "axis": null},
               "y2": {"datum": 1}}},
            {"data": {"name": "exons"}, "transform": [{"filter": "datum.kind == 'CDS'"}],
             "mark": {"type": "rect", "color": "#0a0ab4"},
             "encoding": {
               "x": {"field": "start", "type": "quantitative", "scale": {"domain": [161589760, 161590829], "nice": false, "zero": false}, "axis": null},
               "x2": {"field": "end"},
               "y": {"datum": 0.67, "type": "quantitative", "scale": {"domain": [0, 1], "reverse": true}, "axis": null},
               "y2": {"datum": 1}}}
          ]
        }
      ]
    }
  ]
}
